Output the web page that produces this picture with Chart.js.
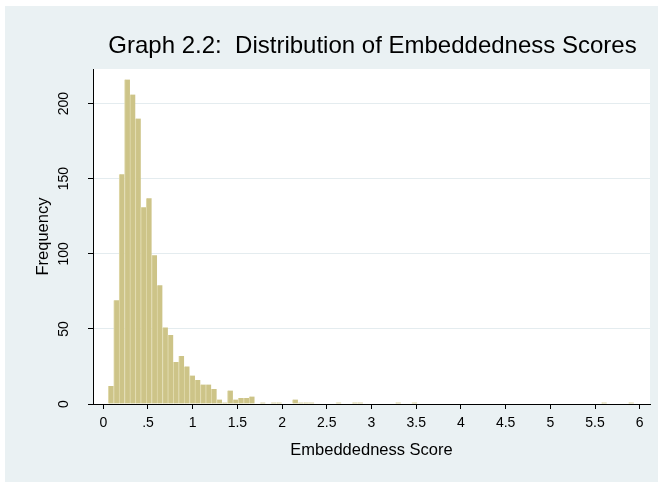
<!DOCTYPE html>
<html>
<head>
<meta charset="utf-8">
<script src="https://cdn.jsdelivr.net/npm/chart.js@4/dist/chart.umd.min.js"></script>
<style>
  html, body { margin: 0; padding: 0; background: #ffffff; }
  canvas { display: block; }
</style>
</head>
<body>
<canvas id="hist" width="658" height="482"></canvas>
<script>
// Histogram of embeddedness scores: equal-width bins, counts per bin
const BIN_START = 0.056;
const BIN_WIDTH = 0.0606;
const FREQUENCY = [
  12, 69, 153, 216, 206, 190, 131, 137, 99, 79,
  51, 46, 28, 32, 25, 19, 16, 13, 13, 10,
  3, 1, 9, 3, 4, 4, 5, 0, 1, 0,
  1, 1, 0, 0, 3, 1, 1, 1, 0, 0,
  0, 0, 1, 0, 0, 1, 1, 0, 0, 0,
  0, 0, 0, 1, 0, 0, 1, 0, 0, 0,
  0, 0, 0, 0, 0, 0, 0, 0, 0, 0,
  0, 0, 0, 0, 0, 0, 0, 0, 0, 0,
  0, 0, 0, 0, 0, 0, 0, 0, 0, 0,
  0, 1, 0, 0, 0, 0, 1
];
const X_TICKS = [0, 0.5, 1, 1.5, 2, 2.5, 3, 3.5, 4, 4.5, 5, 5.5, 6];
const Y_TICKS = [0, 50, 100, 150, 200];

const TITLE = 'Graph 2.2:  Distribution of Embeddedness Scores';
const X_TITLE = 'Embeddedness Score';
const Y_TITLE = 'Frequency';

const FONT = "'Liberation Sans', Arial, Helvetica, sans-serif";
const OUTER_BG = '#eaf1f3';
const GRID = '#e4ecef';
const BAR_FILL = 'rgb(205,196,136)';
const BAR_EDGE = 'rgb(225,218,172)';

const points = FREQUENCY.map((f, i) => ({ x: BIN_START + (i + 0.5) * BIN_WIDTH, y: f }));

// Page background: light bluish-gray graph region, white plot region
const backdrop = {
  id: 'backdrop',
  beforeDraw(chart) {
    const { ctx, chartArea: a } = chart;
    ctx.save();
    ctx.fillStyle = '#ffffff';
    ctx.fillRect(0, 0, chart.width, chart.height);
    ctx.fillStyle = OUTER_BG;
    ctx.fillRect(5, 6, chart.width - 5, chart.height - 6);
    ctx.fillStyle = '#ffffff';
    ctx.fillRect(a.left, a.top, a.right - a.left, a.bottom - a.top);
    ctx.restore();
  }
};

// Titles and vertical y tick labels
const texts = {
  id: 'texts',
  afterDraw(chart) {
    const { ctx, chartArea: a } = chart;
    const ys = chart.scales.y;
    ctx.save();
    ctx.fillStyle = '#000000';

    ctx.font = '24px ' + FONT;
    ctx.textAlign = 'center';
    ctx.textBaseline = 'alphabetic';
    ctx.fillText(TITLE, (a.left + a.right) / 2 + 1, 53);

    ctx.font = '16.5px ' + FONT;
    ctx.textBaseline = 'middle';
    ctx.fillText(X_TITLE, (a.left + a.right) / 2, 450);

    ctx.save();
    ctx.translate(43, (a.top + a.bottom) / 2);
    ctx.rotate(-Math.PI / 2);
    ctx.fillText(Y_TITLE, 0, 0);
    ctx.restore();

    ctx.font = '14px ' + FONT;
    ys.ticks.forEach(t => {
      const py = ys.getPixelForValue(t.value);
      ctx.save();
      ctx.translate(64, py);
      ctx.rotate(-Math.PI / 2);
      ctx.textAlign = 'center';
      ctx.textBaseline = 'middle';
      ctx.fillText(String(t.value), 0, 0);
      ctx.restore();
    });
    ctx.restore();
  }
};

new Chart(document.getElementById('hist'), {
  type: 'bar',
  data: {
    datasets: [{
      data: points,
      backgroundColor: BAR_FILL,
      borderColor: BAR_EDGE,
      borderWidth: { left: 1, right: 0, top: 0, bottom: 0 },
      borderSkipped: false,
      barPercentage: 1,
      categoryPercentage: 1
    }]
  },
  options: {
    responsive: false,
    animation: false,
    devicePixelRatio: 1,
    layout: { padding: { top: 69, right: 8, left: 0, bottom: 0 } },
    plugins: {
      legend: { display: false },
      tooltip: { enabled: false },
      title: { display: false }
    },
    scales: {
      x: {
        type: 'linear',
        min: -0.115,
        max: 6.115,
        offset: false,
        afterFit(scale) { scale.height = 78; },
        afterBuildTicks(scale) { scale.ticks = X_TICKS.map(v => ({ value: v })); },
        ticks: {
          includeBounds: false,
          autoSkip: false,
          maxRotation: 0,
          padding: 6,
          color: '#000000',
          font: { family: FONT, size: 14 },
          callback: v => (v === 0 ? '0' : String(v).replace(/^0\./, '.'))
        },
        grid: {
          offset: false,
          drawOnChartArea: false,
          drawTicks: true,
          tickLength: 5,
          tickColor: '#000000',
          tickWidth: 1
        },
        border: { display: true, color: '#000000', width: 1 }
      },
      y: {
        min: 0,
        max: 223,
        afterFit(scale) { scale.width = 93; },
        afterBuildTicks(scale) { scale.ticks = Y_TICKS.map(v => ({ value: v })); },
        ticks: { display: false, includeBounds: false },
        grid: {
          color: GRID,
          lineWidth: 1,
          drawTicks: true,
          tickLength: 5,
          tickColor: '#000000',
          tickWidth: 1
        },
        border: { display: true, color: '#000000', width: 1 }
      }
    }
  },
  plugins: [backdrop, texts]
});
</script>
</body>
</html>
